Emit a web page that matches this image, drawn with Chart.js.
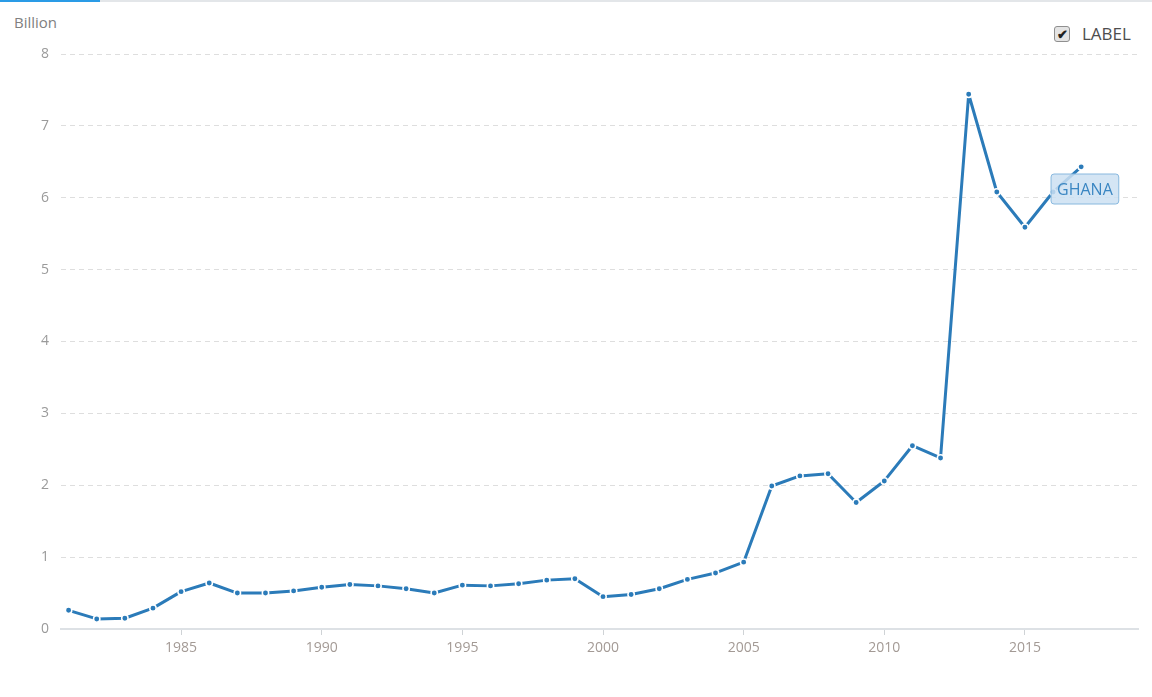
<!DOCTYPE html>
<html>
<head>
<meta charset="utf-8">
<script src="https://cdn.jsdelivr.net/npm/chart.js@4/dist/chart.umd.min.js"></script>
<style>
  html, body { margin: 0; padding: 0; background: #fff; }
  body { width: 1152px; height: 697px; position: relative; overflow: hidden; font-family: "Open Sans", sans-serif; }
  #bar { position: absolute; left: 0; top: 0; width: 1152px; height: 2px; background: #e3e6e9; }
  #bar span { display: block; width: 100px; height: 2px; background: #2a9be6; }
  #unit { position: absolute; left: 14px; top: 12px; font-size: 15px; color: #808080; }
  #legend { position: absolute; left: 1054px; top: 22px; display: flex; align-items: center; font-size: 17px; color: #4d4d4d; }
  #legend .box { width: 14px; height: 14px; border: 1px solid #8f8f8f; border-radius: 3px; background: #e4e4e4;
    font-size: 13px; font-weight: bold; line-height: 14px; text-align: center; color: #222; margin-right: 12px; }
  canvas { position: absolute; left: 0; top: 0; }
</style>
</head>
<body>
<div id="bar"><span></span></div>
<div id="unit">Billion</div>
<div id="legend"><div class="box">✔</div>LABEL</div>
<canvas id="chart" width="1152" height="697"></canvas>
<script>
// data (billions)
const years = [1981, 1982, 1983, 1984, 1985, 1986, 1987, 1988, 1989, 1990,
  1991, 1992, 1993, 1994, 1995, 1996, 1997, 1998, 1999, 2000,
  2001, 2002, 2003, 2004, 2005, 2006, 2007, 2008, 2009, 2010,
  2011, 2012, 2013, 2014, 2015, 2016, 2017];
const ghana = [0.26, 0.14, 0.15, 0.29, 0.52, 0.64, 0.50, 0.50, 0.53, 0.58,
  0.62, 0.60, 0.56, 0.50, 0.61, 0.60, 0.63, 0.68, 0.70, 0.45,
  0.48, 0.56, 0.69, 0.78, 0.93, 1.99, 2.13, 2.16, 1.76, 2.06,
  2.55, 2.38, 7.44, 6.08, 5.59, 6.08, 6.43];
const yearTicks = [1985, 1990, 1995, 2000, 2005, 2010, 2015];
const seriesName = "GHANA";

const lineColor = "#2b7bb9";

// box with the series name, hung on the 2016 point
const nameTag = {
  id: "nameTag",
  afterDatasetsDraw(chart) {
    const meta = chart.getDatasetMeta(0);
    const pt = meta.data[years.indexOf(2016)];
    const ctx = chart.ctx;
    ctx.save();
    ctx.font = "16px 'Open Sans', sans-serif";
    const w = ctx.measureText(seriesName).width + 12;
    const h = 30;
    const x = pt.x - 2, y = pt.y - 18;
    ctx.beginPath();
    ctx.roundRect(x, y, w, h, 3);
    ctx.fillStyle = "rgba(205,225,242,0.85)";
    ctx.fill();
    ctx.lineWidth = 1;
    ctx.strokeStyle = "#88b8de";
    ctx.stroke();
    ctx.fillStyle = "#3a86c2";
    ctx.textBaseline = "middle";
    ctx.textAlign = "center";
    ctx.fillText(seriesName, x + w / 2, y + h / 2 + 1);
    ctx.restore();
  }
};

new Chart(document.getElementById("chart"), {
  type: "line",
  data: {
    datasets: [{
      label: seriesName,
      data: years.map((yr, i) => ({ x: yr, y: ghana[i] })),
      borderColor: lineColor,
      borderWidth: 3,
      borderJoinStyle: "round",
      tension: 0,
      pointRadius: 3.2,
      pointBackgroundColor: lineColor,
      pointBorderColor: "#fff",
      pointBorderWidth: 1.5
    }]
  },
  options: {
    responsive: false,
    animation: false,
    devicePixelRatio: 1,
    layout: { padding: { top: 54, right: 14, left: 0, bottom: 0 } },
    plugins: { legend: { display: false }, tooltip: { enabled: false } },
    scales: {
      x: {
        type: "linear",
        min: 1980.73,
        max: 2019.02,
        afterBuildTicks: s => { s.ticks = yearTicks.map(v => ({ value: v })); },
        afterFit: s => { s.height = 68; },
        border: { display: true, color: "#dde1e5", width: 2 },
        grid: { drawOnChartArea: false, drawTicks: true, tickLength: 6, color: "#cfd3d6", lineWidth: 1 },
        ticks: { color: "#a39a95", font: { family: "Open Sans", size: 14 }, padding: 5, callback: v => String(v) }
      },
      y: {
        min: 0,
        max: 8,
        afterFit: s => { s.width = 61; },
        border: { display: false, dash: [5, 4] },
        grid: { color: "#dedede", lineWidth: 1, drawTicks: false },
        ticks: { stepSize: 1, color: "#9a9a9a", font: { family: "Open Sans", size: 14 }, padding: 12 }
      }
    }
  },
  plugins: [nameTag]
});
</script>
</body>
</html>
